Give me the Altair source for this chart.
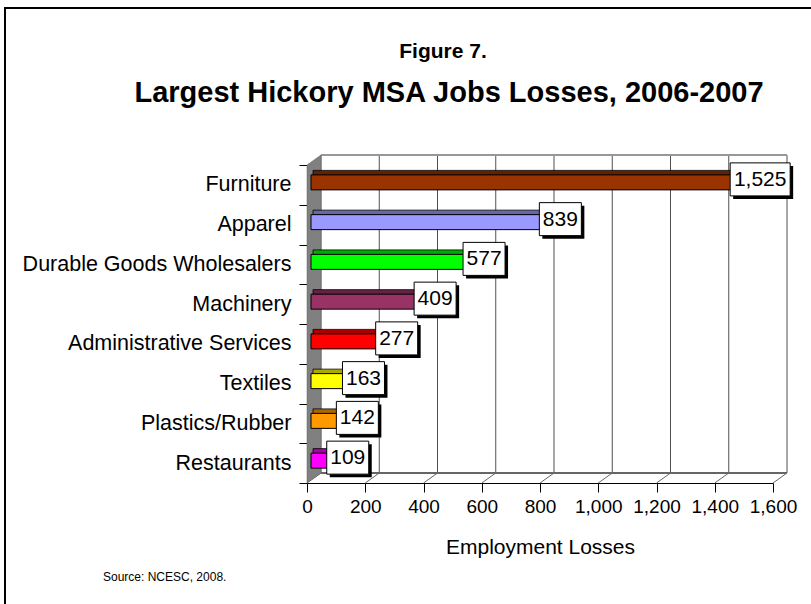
import altair as alt
import pandas as pd

categories = ["Furniture", "Apparel", "Durable Goods Wholesalers", "Machinery",
              "Administrative Services", "Textiles", "Plastics/Rubber", "Restaurants"]
values = [1525, 839, 577, 409, 277, 163, 142, 109]
front_colors = ["#993300", "#9999FF", "#00FF00", "#993366", "#FF0000", "#FFFF00", "#FF9900", "#FF00FF"]
top_colors = ["#661F00", "#6666AA", "#00AA00", "#662244", "#AA0000", "#AAAA00", "#AA6600", "#AA00AA"]
x_ticks = [0, 200, 400, 600, 800, 1000, 1200, 1400, 1600]

FONT = "Liberation Sans"
W, H = 466, 318
DX, DY = 14, -10

df = pd.DataFrame({"category": categories, "value": values,
                   "label": [f"{v:,}" for v in values]})
grid_df = pd.DataFrame({"tick": x_ticks})

ysc = alt.Scale(domain=categories, paddingInner=0, paddingOuter=0)
xsc = alt.Scale(domain=[0, 1600], nice=False)

base = alt.Chart(df)

x_axis = alt.Axis(values=x_ticks, format=",.0f", tickSize=9, tickColor="black",
                  domainColor="black", labelFontSize=19, labelColor="black",
                  labelPadding=5, labelOverlap=False, labelFlush=False, grid=False,
                  title="Employment Losses",
                  titleFontSize=21, titleFontWeight="normal", titleColor="black",
                  titlePadding=20)
y_axis = alt.Axis(tickBand="extent", tickSize=8, tickColor="black", domainColor="black",
                  labelFontSize=21.5, labelColor="black", labelPadding=8, labelLimit=0,
                  title=None, grid=False)

# back wall gridlines
grid = alt.Chart(grid_df).mark_rule(color="#505050", strokeWidth=1, xOffset=DX).encode(
    x=alt.X("tick:Q", scale=xsc, axis=x_axis), y=alt.value(DY), y2=alt.value(H + DY))
diag = alt.Chart(grid_df).mark_rule(color="#666666", strokeWidth=1, x2Offset=DX).encode(
    x=alt.X("tick:Q", scale=xsc), x2="tick:Q", y=alt.value(H), y2=alt.value(H + DY))
wall_top = alt.Chart(grid_df).mark_rule(color="#999999", strokeWidth=1.5, xOffset=DX, x2Offset=DX).encode(
    x=alt.datum(0, scale=xsc), x2=alt.datum(1600), y=alt.value(DY))
wall_bot = alt.Chart(grid_df).mark_rule(color="#666666", strokeWidth=1, xOffset=DX, x2Offset=DX).encode(
    x=alt.datum(0, scale=xsc), x2=alt.datum(1600), y=alt.value(H + DY))

# left side wall (parallelogram)
side = alt.Chart(grid_df).transform_filter("datum.tick == 0").mark_point(
    filled=True, opacity=1, fill="#808080", stroke="#606060", strokeWidth=0.5,
    shape="M0,0 L0.14,-0.1 L0.14,3.08 L0,3.18 Z").encode(
    x=alt.value(0), y=alt.value(0), size=alt.value(40000))

color_top = alt.Color("category:N", scale=alt.Scale(domain=categories, range=top_colors), legend=None)
color_front = alt.Color("category:N", scale=alt.Scale(domain=categories, range=front_colors), legend=None)

bar_top = base.mark_bar(size=5, yOffset=-12, xOffset=6, x2Offset=6, stroke="black",
                        strokeWidth=0.8).encode(
    x=alt.X("value:Q", scale=xsc), x2=alt.datum(0),
    y=alt.Y("category:N", scale=ysc, sort=categories, axis=y_axis), color=color_top)
bar_front = base.mark_bar(size=15, yOffset=-2.5, xOffset=4, x2Offset=4, stroke="black",
                          strokeWidth=1).encode(
    x=alt.X("value:Q", scale=xsc), x2=alt.datum(0),
    y=alt.Y("category:N", scale=ysc, sort=categories), color=color_front)

def boxes(cond, half):
    sub = base.transform_filter(cond)
    shadow = sub.mark_bar(size=33, color="black", yOffset=-2.5,
                          xOffset=9 - half + 3, x2Offset=9 + half + 3).encode(
        x=alt.X("value:Q", scale=xsc), x2="value:Q",
        y=alt.Y("category:N", scale=ysc, sort=categories))
    box = sub.mark_bar(size=33, color="white", stroke="black", strokeWidth=1, yOffset=-5.5,
                       xOffset=9 - half, x2Offset=9 + half).encode(
        x=alt.X("value:Q", scale=xsc), x2="value:Q",
        y=alt.Y("category:N", scale=ysc, sort=categories))
    return shadow + box

short_boxes = boxes("length(datum.label) <= 3", 21)
long_boxes = boxes("length(datum.label) > 3", 30)

labels = base.mark_text(fontSize=21, font=FONT, color="black", dx=9, dy=-5,
                        align="center", baseline="middle").encode(
    x=alt.X("value:Q", scale=xsc), y=alt.Y("category:N", scale=ysc, sort=categories),
    text="label:N")

# titles and frame
one = pd.DataFrame({"t": [0]})
title1 = alt.Chart(one).mark_text(fontSize=21, fontWeight="bold", font=FONT, color="black",
                                  align="center", baseline="middle").encode(
    x=alt.value(136), y=alt.value(-113), text=alt.value("Figure 7."))
title2 = alt.Chart(one).mark_text(fontSize=29, fontWeight="bold", font=FONT, color="black",
                                  align="center", baseline="middle").encode(
    x=alt.value(142), y=alt.value(-72),
    text=alt.value("Largest Hickory MSA Jobs Losses, 2006-2007"))
source = alt.Chart(one).mark_text(fontSize=12, font=FONT, color="black",
                                  align="left", baseline="middle").encode(
    x=alt.value(-204), y=alt.value(412), text=alt.value("Source: NCESC, 2008."))
frame_top = alt.Chart(one).mark_rule(color="black", strokeWidth=2).encode(
    x=alt.value(-302), x2=alt.value(510), y=alt.value(-157))
frame_left = alt.Chart(one).mark_rule(color="black", strokeWidth=2).encode(
    x=alt.value(-302), y=alt.value(-158), y2=alt.value(445))

chart = alt.layer(
    frame_top, frame_left, title1, title2, source,
    grid, wall_top, wall_bot, diag, side,
    bar_top, bar_front, short_boxes, long_boxes, labels
).resolve_scale(color="independent").properties(
    width=W, height=H,
    autosize=alt.AutoSizeParams(type="none"),
    padding={"left": 307, "top": 165, "right": 38, "bottom": 121},
    background="white",
).configure(font=FONT).configure_view(stroke=None)

chart.save("out.html", embed_options={"renderer": "svg", "actions": False})
